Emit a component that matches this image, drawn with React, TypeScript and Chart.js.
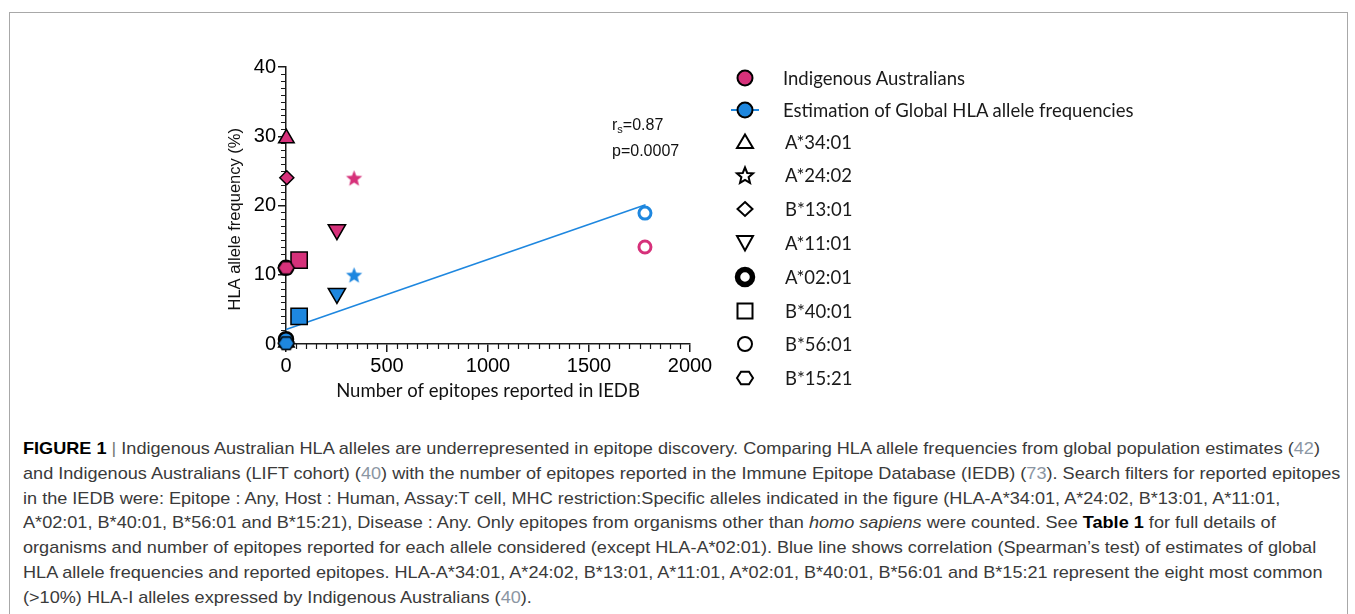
import React, { useEffect, useLayoutEffect, useRef } from 'react';
import { Chart, registerables } from 'chart.js';

Chart.register(...registerables);

// ---------------- data ----------------
const alleles = ['A*34:01', 'A*24:02', 'B*13:01', 'A*11:01', 'A*02:01', 'B*40:01', 'B*56:01', 'B*15:21'];
const epitopesReported = [2, 337, 4, 252, 0, 65, 1777, 1];
const indigenousFreq = [29.7, 24, 24, 16.5, 11, 12.1, 14, 11];
const globalFreq = [0.2, 10, 0.3, 7.3, 0.7, 4, 18.9, 0.1];
const fitX = [0, 1780];
const fitY = [2.1, 20.1];
const xTicks = [0, 500, 1000, 1500, 2000];
const yTicks = [0, 10, 20, 30, 40];
const seriesNames = ['Indigenous Australians', 'Estimation of Global HLA allele frequencies'];
const xTitle = 'Number of epitopes reported in IEDB';
const yTitle = 'HLA allele frequency (%)';

// ---------------- styles ----------------
const PINK = '#D6317A';
const BLUE = '#1E87DF';
const AXIS = '#1a1a1a';
const shapeOf = ['triangle', 'star', 'rectRot', 'triangle', 'circle', 'rect', 'circle', 'hex'];
const rotOf = [0, 0, 0, 180, 0, 0, 0, 0];
const radiusOf = [9, 8, 7, 10, 7, 11.5, 6, 8];
const borderWOf = [1.5, 0, 1.5, 1.5, 2.5, 1.5, 3, 0];
const hollowOf = [false, false, false, false, false, false, true, false];
const MINOR_X = 50;
const MINOR_Y = 1;

function makeStar(color: string, R: number, r: number) {
  const s = Math.ceil(R * 2) + 2;
  const c = document.createElement('canvas');
  c.width = s;
  c.height = s;
  const g = c.getContext('2d')!;
  g.translate(s / 2, s / 2 + 1);
  g.beginPath();
  for (let i = 0; i < 10; i++) {
    const a = -Math.PI / 2 + (i * Math.PI) / 5;
    const rr = i % 2 === 0 ? R : r;
    g.lineTo(Math.cos(a) * rr, Math.sin(a) * rr);
  }
  g.closePath();
  g.fillStyle = color;
  g.fill();
  return c;
}

function makeHex(color: string, R: number) {
  const s = Math.ceil(R * 2) + 4;
  const c = document.createElement('canvas');
  c.width = s;
  c.height = s;
  const g = c.getContext('2d')!;
  g.translate(s / 2, s / 2);
  g.beginPath();
  for (let i = 0; i < 6; i++) {
    const a = (i * Math.PI) / 3;
    g.lineTo(Math.cos(a) * R, Math.sin(a) * R * 0.9);
  }
  g.closePath();
  g.fillStyle = color;
  g.fill();
  g.lineWidth = 1.5;
  g.strokeStyle = '#000';
  g.stroke();
  return c;
}

function styleFor(color: string) {
  return {
    pointStyle: shapeOf.map((s) => (s === 'star' ? makeStar(color, 8.5, 3.7) : s === 'hex' ? makeHex(color, 8) : s)),
    pointRadius: radiusOf,
    pointHoverRadius: radiusOf,
    pointRotation: rotOf,
    pointBackgroundColor: hollowOf.map((h) => (h ? '#fff' : color)),
    pointBorderColor: hollowOf.map((h) => (h ? color : '#000')),
    pointBorderWidth: borderWOf,
  };
}

const minorTicks = {
  id: 'minorTicks',
  beforeDatasetsDraw(chart: any) {
    const { ctx, chartArea, scales } = chart;
    const x = scales.x;
    const y = scales.y;
    ctx.save();
    ctx.strokeStyle = AXIS;
    ctx.lineWidth = 1.2;
    ctx.beginPath();
    for (let v = y.min; v <= y.max; v += MINOR_Y) {
      if (yTicks.includes(v)) continue;
      const py = Math.round(y.getPixelForValue(v)) + 0.5;
      ctx.moveTo(chartArea.left - 5, py);
      ctx.lineTo(chartArea.left, py);
    }
    for (let v = x.min; v <= x.max; v += MINOR_X) {
      if (xTicks.includes(v)) continue;
      const px = Math.round(x.getPixelForValue(v)) + 0.5;
      ctx.moveTo(px, chartArea.bottom);
      ctx.lineTo(px, chartArea.bottom + 5);
    }
    ctx.stroke();
    ctx.restore();
  },
};

function ScatterChart() {
  const ref = useRef<HTMLCanvasElement | null>(null);
  useEffect(() => {
    const canvas = ref.current!;
    const chart = new Chart(canvas, {
      type: 'scatter',
      data: {
        datasets: [
          {
            label: seriesNames[0],
            data: epitopesReported.map((x, i) => ({ x, y: indigenousFreq[i] })),
            ...styleFor(PINK),
            showLine: false,
            clip: false,
            order: 0,
          } as any,
          {
            label: seriesNames[1],
            data: epitopesReported.map((x, i) => ({ x, y: globalFreq[i] })),
            ...styleFor(BLUE),
            showLine: false,
            clip: false,
            order: 1,
          } as any,
          {
            type: 'line',
            label: 'fit',
            data: fitX.map((x, i) => ({ x, y: fitY[i] })),
            borderColor: BLUE,
            borderWidth: 1.6,
            pointRadius: 0,
            fill: false,
            clip: false,
            order: 2,
          } as any,
        ],
      },
      options: {
        responsive: false,
        animation: false,
        devicePixelRatio: 1,
        events: [],
        layout: { padding: { left: 0, top: 27, right: 50, bottom: 0 } },
        plugins: { legend: { display: false }, tooltip: { enabled: false } },
        scales: {
          x: {
            type: 'linear',
            min: 0,
            max: 2000,
            afterBuildTicks: (s: any) => {
              s.ticks = xTicks.map((v) => ({ value: v }));
            },
            afterFit: (s: any) => {
              s.height = 66;
            },
            border: { display: true, color: AXIS, width: 1.5 },
            grid: { drawOnChartArea: false, drawTicks: true, tickLength: 8, color: AXIS, lineWidth: 1.5 },
            ticks: {
              color: '#000',
              padding: 2,
              maxRotation: 0,
              callback: (v: any) => String(v),
              font: { family: "'Liberation Sans', Arial, sans-serif", size: 20 },
            },
            title: {
              display: true,
              text: xTitle,
              color: '#111',
              font: { family: "Lato, 'Open Sans', sans-serif", size: 18.5 },
              padding: { top: 0, bottom: 8 },
            },
          },
          y: {
            type: 'linear',
            min: 0,
            max: 40,
            afterBuildTicks: (s: any) => {
              s.ticks = yTicks.map((v) => ({ value: v }));
            },
            afterFit: (s: any) => {
              s.width = 86;
            },
            border: { display: true, color: AXIS, width: 1.5 },
            grid: { drawOnChartArea: false, drawTicks: true, tickLength: 8, color: AXIS, lineWidth: 1.5 },
            ticks: {
              color: '#000',
              padding: 2,
              callback: (v: any) => String(v),
              font: { family: "'Liberation Sans', Arial, sans-serif", size: 20 },
            },
            title: {
              display: true,
              text: yTitle + '\u00a0\u00a0\u00a0\u00a0\u00a0\u00a0',
              color: '#111',
              font: { family: "'Liberation Sans', Arial, sans-serif", size: 16.5 },
              padding: { top: 26, bottom: 0 },
            },
          },
        },
      },
      plugins: [minorTicks],
    } as any);
    return () => chart.destroy();
  }, []);
  return (
    <canvas
      ref={ref}
      width={540}
      height={370}
      style={{ position: 'absolute', left: 200, top: 40, width: 540, height: 370 }}
    />
  );
}

// ---------------- legend ----------------
function Marker({ kind }: { kind: string }) {
  const st = { fill: '#fff', stroke: '#000', strokeWidth: 2, strokeLinejoin: 'miter' as const };
  let shape: React.ReactNode = null;
  if (kind === 'pink') shape = <circle cx={12} cy={12} r={7.5} fill={PINK} stroke="#000" strokeWidth={2} />;
  else if (kind === 'blue')
    shape = (
      <g>
        <line x1={-2} y1={12} x2={26} y2={12} stroke={BLUE} strokeWidth={2} />
        <circle cx={12} cy={12} r={7.5} fill={BLUE} stroke="#000" strokeWidth={2} />
      </g>
    );
  else if (kind === 'triangle') shape = <polygon points="12,4.5 20,18 4,18" {...st} />;
  else if (kind === 'star') {
    const pts: string[] = [];
    for (let i = 0; i < 10; i++) {
      const a = -Math.PI / 2 + (i * Math.PI) / 5;
      const rr = i % 2 === 0 ? 8.5 : 3.8;
      pts.push(`${(12 + Math.cos(a) * rr).toFixed(2)},${(13 + Math.sin(a) * rr).toFixed(2)}`);
    }
    shape = <polygon points={pts.join(' ')} {...st} />;
  } else if (kind === 'rectRot') shape = <polygon points="12,5 19.5,12 12,19 4.5,12" {...st} />;
  else if (kind === 'invtriangle') shape = <polygon points="4,5 20,5 12,19.5" {...st} />;
  else if (kind === 'ring') shape = <circle cx={12} cy={12} r={7.5} fill="#fff" stroke="#000" strokeWidth={5.5} />;
  else if (kind === 'rect') shape = <rect x={4.5} y={4.5} width={15} height={15} {...st} />;
  else if (kind === 'circle') shape = <circle cx={12} cy={12} r={7} {...st} />;
  else if (kind === 'hex') shape = <polygon points="4,12 8,5.8 16,5.8 20,12 16,18.2 8,18.2" {...st} />;
  return (
    <svg width={24} height={24} viewBox="0 0 24 24" style={{ overflow: 'visible', display: 'block' }}>
      {shape}
    </svg>
  );
}

const legendKinds = ['pink', 'blue', 'triangle', 'star', 'rectRot', 'invtriangle', 'ring', 'rect', 'circle', 'hex'];
const legendRowsY = [78, 109.5, 142, 175, 208.5, 242.5, 276.5, 310.5, 344, 377.5];

function Legend() {
  const labels = [...seriesNames, ...alleles];
  return (
    <>
      {labels.map((t, i) => (
        <React.Fragment key={t}>
          <div style={{ position: 'absolute', left: 745 - 12, top: legendRowsY[i] - 12 }}>
            <Marker kind={legendKinds[i]} />
          </div>
          <div
            style={{
              position: 'absolute',
              left: i < 2 ? 783 : 785,
              top: legendRowsY[i] - 13,
              height: 26,
              lineHeight: '26px',
              fontFamily: "Lato, 'Open Sans', sans-serif",
              fontSize: 18.5,
              color: '#1a1a1a',
              whiteSpace: 'nowrap',
            }}
          >
            {t}
          </div>
        </React.Fragment>
      ))}
    </>
  );
}

// ---------------- caption ----------------
const cite = (n: string) => <span style={{ color: '#8b96a3' }}>{n}</span>;

function Caption() {
  const wrapRef = useRef<HTMLDivElement | null>(null);
  const firstRef = useRef<HTMLSpanElement | null>(null);
  useLayoutEffect(() => {
    const w = firstRef.current!.getBoundingClientRect().width;
    if (w > 0) wrapRef.current!.style.transform = `scaleX(${1297 / w})`;
  }, []);
  const lines: React.ReactNode[] = [
    <span ref={firstRef}>
      <b style={{ color: '#000' }}>FIGURE 1</b> <span style={{ color: '#777' }}>|</span> Indigenous Australian HLA alleles are
      underrepresented in epitope discovery. Comparing HLA allele frequencies from global population estimates ({cite('42')})
    </span>,
    <span>
      and Indigenous Australians (LIFT cohort) ({cite('40')}) with the number of epitopes reported in the Immune Epitope Database
      (IEDB) ({cite('73')}). Search filters for reported epitopes
    </span>,
    <span>
      in the IEDB were: Epitope : Any, Host : Human, Assay:T cell, MHC restriction:Specific alleles indicated in the figure
      (HLA-A*34:01, A*24:02, B*13:01, A*11:01,
    </span>,
    <span>
      A*02:01, B*40:01, B*56:01 and B*15:21), Disease : Any. Only epitopes from organisms other than <i>homo sapiens</i> were
      counted. See <b style={{ color: '#000' }}>Table 1</b> for full details of
    </span>,
    <span>
      organisms and number of epitopes reported for each allele considered (except HLA-A*02:01). Blue line shows correlation
      (Spearman’s test) of estimates of global
    </span>,
    <span>
      HLA allele frequencies and reported epitopes. HLA-A*34:01, A*24:02, B*13:01, A*11:01, A*02:01, B*40:01, B*56:01 and
      B*15:21 represent the eight most common
    </span>,
    <span>(&gt;10%) HLA-I alleles expressed by Indigenous Australians ({cite('40')}).</span>,
  ];
  return (
    <div
      ref={wrapRef}
      style={{
        position: 'absolute',
        left: 23,
        top: 437,
        transformOrigin: '0 0',
        fontFamily: "'Liberation Sans Narrow', 'Liberation Sans', Arial, sans-serif",
        fontSize: 17,
        color: '#3a3a3a',
      }}
    >
      {lines.map((l, i) => (
        <div key={i} style={{ height: 24.8, lineHeight: '24.8px', whiteSpace: 'nowrap' }}>
          {l}
        </div>
      ))}
    </div>
  );
}

export default function App() {
  return (
    <div
      style={{
        position: 'fixed',
        left: 0,
        top: 0,
        width: 1355,
        height: 614,
        overflow: 'hidden',
        background: '#fff',
      }}
    >
      <div
        style={{
          position: 'absolute',
          left: 9,
          top: 12,
          width: 1339,
          height: 700,
          boxSizing: 'border-box',
          border: '1px solid #a8a8a8',
        }}
      />
      <ScatterChart />
      <div
        style={{
          position: 'absolute',
          left: 612,
          top: 114,
          fontFamily: "'Liberation Sans', Arial, sans-serif",
          fontSize: 16,
          color: '#111',
          lineHeight: '22px',
          whiteSpace: 'nowrap',
        }}
      >
        <div>
          r<sub style={{ fontSize: 11, verticalAlign: '-3px' }}>s</sub>=0.87
        </div>
        <div>p=0.0007</div>
      </div>
      <Legend />
      <Caption />
    </div>
  );
}
